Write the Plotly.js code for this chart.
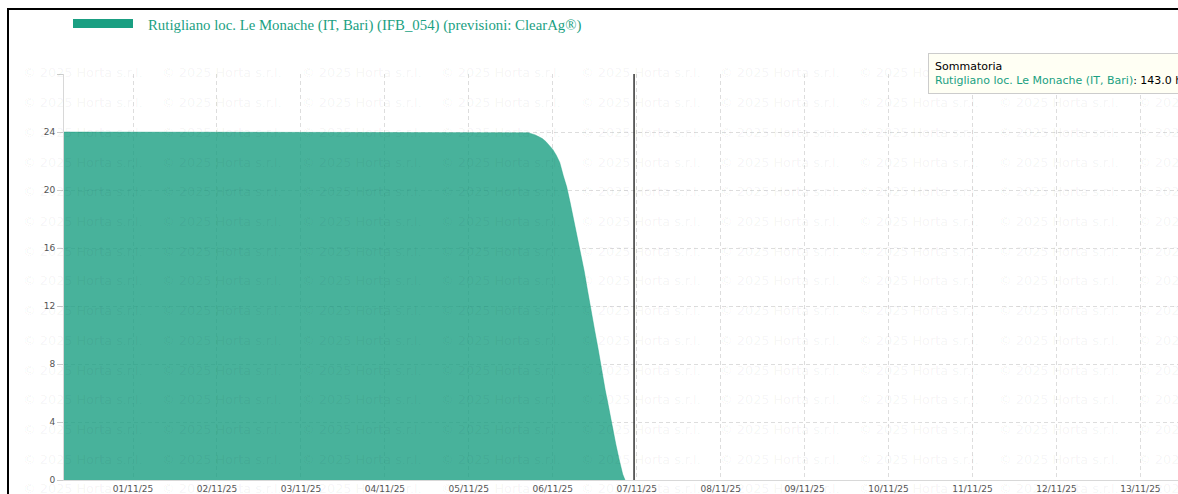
<!DOCTYPE html>
<html>
<head>
    <title>Sommatoria</title>
    <style>
        html, body {
            margin: 0;
            padding: 0;
            overflow: hidden;
            background: #ffffff;
        }
        #frame {
            position: absolute;
            left: 7px;
            top: 8px;
            width: 1240px;
            height: 520px;
            border: 2px solid #000000;
            background: #ffffff;
        }
        #plot {
            width: 1240px;
            height: 520px;
        }
    </style>
    <script src="https://cdn.plot.ly/plotly-3.0.1.min.js"></script>
</head>

<body>
<div id="frame"><div id="plot"></div></div>
<script>
    // series: hourly sum (h)
    const times = [
        '2025-10-31 04:00', '2025-11-01 00:00', '2025-11-02 00:00', '2025-11-03 00:00',
        '2025-11-04 00:00', '2025-11-05 00:00', '2025-11-05 15:00', '2025-11-05 17:00',
        '2025-11-05 19:00', '2025-11-05 20:00', '2025-11-05 21:00', '2025-11-05 22:00',
        '2025-11-05 23:00', '2025-11-06 00:00', '2025-11-06 01:00', '2025-11-06 02:00',
        '2025-11-06 03:00', '2025-11-06 04:00', '2025-11-06 05:00', '2025-11-06 06:00',
        '2025-11-06 07:00', '2025-11-06 08:00', '2025-11-06 09:00', '2025-11-06 10:00',
        '2025-11-06 11:00', '2025-11-06 12:00', '2025-11-06 13:00', '2025-11-06 14:00',
        '2025-11-06 15:00', '2025-11-06 16:00', '2025-11-06 17:00', '2025-11-06 18:00',
        '2025-11-06 19:00', '2025-11-06 20:00', '2025-11-06 20:40'
    ];
    const values = [
        24, 24, 24, 24,
        24, 24, 24, 23.95,
        23.8, 23.7, 23.55, 23.35,
        23.1, 22.8, 22.4, 21.9,
        21.0, 20.2, 19.1, 17.9,
        16.8, 15.7, 14.4, 13.0,
        11.5, 10.3, 9.0, 7.5,
        6.2, 5.0, 3.7, 2.5,
        1.4, 0.4, 0
    ];

    const dayTicks = [
        '2025-11-01', '2025-11-02', '2025-11-03', '2025-11-04', '2025-11-05',
        '2025-11-06', '2025-11-07', '2025-11-08', '2025-11-09', '2025-11-10',
        '2025-11-11', '2025-11-12', '2025-11-13'
    ];
    const dayLabels = [
        '01/11/25', '02/11/25', '03/11/25', '04/11/25', '05/11/25',
        '06/11/25', '07/11/25', '08/11/25', '09/11/25', '10/11/25',
        '11/11/25', '12/11/25', '13/11/25'
    ];
    const yTicks = [0, 4, 8, 12, 16, 20, 24, 28];
    const yLabels = ['0', '4', '8', '12', '16', '20', '24', ''];

    const seriesName = 'Rutigliano loc. Le Monache (IT, Bari) (IFB_054) (previsioni: ClearAg®)';
    const tipTitle = 'Sommatoria';
    const tipSeries = 'Rutigliano loc. Le Monache (IT, Bari)';
    const tipValue = '143.0 h';
    const nowTime = '2025-11-06 23:15';
    const watermark = '© 2025 Horta s.r.l.';

    const green = '#1a9f82';

    // page pixels -> paper coords (plot area 64..1200 x 74..480)
    function px(x) { return (x - 64) / 1136; }
    function py(y) { return (480 - y) / 406; }

    const trace = {
        x: times,
        y: values,
        type: 'scatter',
        mode: 'lines',
        fill: 'tozeroy',
        fillcolor: 'rgba(26,159,130,0.8)',
        line: {color: 'rgba(26,159,130,0.8)', width: 0.5},
        hoverinfo: 'skip',
        showlegend: false
    };

    const annotations = [];
    for (let r = 0; r < 15; r++) {
        for (let c = 0; c < 9; c++) {
            annotations.push({
                xref: 'paper', yref: 'paper',
                x: px(21 + c * 139.4), y: py(73 + r * 29.7),
                xanchor: 'left', yanchor: 'middle',
                text: watermark, showarrow: false,
                font: {family: 'DejaVu Sans', size: 12.8, color: 'rgba(0,0,0,0.055)'}
            });
        }
    }
    annotations.push({
        xref: 'paper', yref: 'paper',
        x: px(146), y: py(25),
        xanchor: 'left', yanchor: 'middle',
        text: seriesName, showarrow: false,
        font: {family: 'Liberation Serif', size: 14.8, color: green}
    });
    annotations.push({
        xref: 'paper', yref: 'paper',
        x: px(928), y: py(53),
        xanchor: 'left', yanchor: 'top', align: 'left',
        text: tipTitle + '<br><span style="color:' + green + '">' + tipSeries + '</span>: ' + tipValue,
        showarrow: false,
        bgcolor: '#fffff4', bordercolor: '#cccccc', borderwidth: 1, borderpad: 6,
        font: {family: 'DejaVu Sans', size: 11, color: '#000000'}
    });

    const shapes = [
        {
            type: 'rect', xref: 'paper', yref: 'paper',
            x0: px(73), x1: px(133), y0: py(28), y1: py(19),
            fillcolor: green, line: {width: 0}
        },
        {
            type: 'line', xref: 'x', yref: 'paper',
            x0: nowTime, x1: nowTime, y0: 0, y1: 1,
            line: {color: '#333333', width: 1.5}
        }
    ];

    const layout = {
        width: 1240,
        height: 520,
        margin: {l: 55, r: 49, t: 64, b: 50, pad: 0},
        paper_bgcolor: '#ffffff',
        plot_bgcolor: 'rgba(0,0,0,0)',
        showlegend: false,
        xaxis: {
            type: 'date',
            range: ['2025-10-31 04:16', '2025-11-13 17:03'],
            tickvals: dayTicks,
            ticktext: dayLabels,
            tickfont: {family: 'DejaVu Sans', size: 9, color: '#555555'},
            showline: true,
            linecolor: '#d8d8d8',
            linewidth: 1,
            showgrid: true,
            gridcolor: '#dddddd',
            griddash: '4px,3px',
            zeroline: false,
            fixedrange: true
        },
        yaxis: {
            range: [0, 28],
            tickvals: yTicks,
            ticktext: yLabels,
            tickfont: {family: 'DejaVu Sans', size: 9, color: '#555555'},
            ticks: 'outside',
            ticklen: 6,
            tickcolor: '#cccccc',
            showline: true,
            linecolor: '#d8d8d8',
            linewidth: 1,
            showgrid: true,
            gridcolor: '#dddddd',
            griddash: '4px,3px',
            zeroline: false,
            fixedrange: true
        },
        annotations: annotations,
        shapes: shapes
    };

    Plotly.newPlot('plot', [trace], layout, {displayModeBar: false, staticPlot: true});
</script>
</body>
</html>
